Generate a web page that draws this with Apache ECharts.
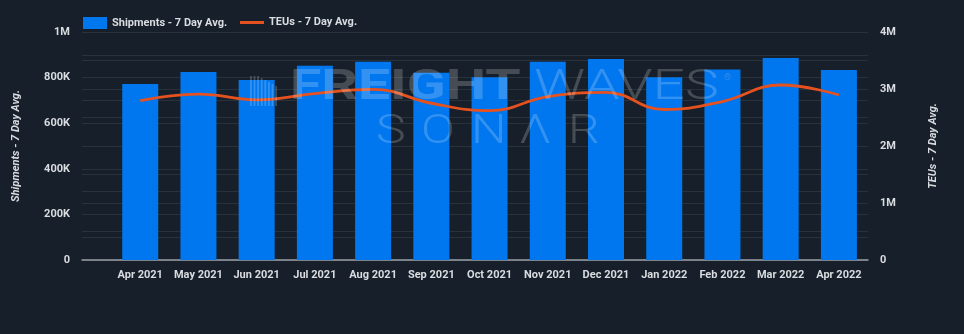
<!DOCTYPE html>
<html>
<head>
<meta charset="utf-8">
<script src="https://cdn.jsdelivr.net/npm/echarts@6/dist/echarts.min.js"></script>
<style>
  html, body { margin: 0; padding: 0; background: #17202a; }
  #chart { width: 964px; height: 334px; }
</style>
</head>
<body>
<div id="chart"></div>
<script>
// Monthly categories along the bottom axis
const months = ['Apr 2021', 'May 2021', 'Jun 2021', 'Jul 2021', 'Aug 2021', 'Sep 2021',
  'Oct 2021', 'Nov 2021', 'Dec 2021', 'Jan 2022', 'Feb 2022', 'Mar 2022', 'Apr 2022'];

// Shipments - 7 day average (left axis)
const shipments = [772000, 825000, 789000, 852000, 870000, 821000,
  801000, 870000, 882000, 801000, 836000, 886000, 833000];

// TEUs - 7 day average (right axis)
const teus = [2795000, 2910000, 2810000, 2920000, 2995000, 2750000,
  2620000, 2865000, 2940000, 2640000, 2780000, 3070000, 2895000];

const shipmentTicks = { 0: '0', 200000: '200K', 400000: '400K', 600000: '600K', 800000: '800K', 1000000: '1M' };
const teuTicks = { 0: '0', 1000000: '1M', 2000000: '2M', 3000000: '3M', 4000000: '4M' };

const FONT = 'Roboto, sans-serif';
const TXT = '#d9dce0';
const GRID = '#29313b';
const BAR = '#0077ee';
const LINE = '#e5521f';

const chart = echarts.init(document.getElementById('chart'), null, { renderer: 'canvas' });

// Faint brand mark drawn across the plot
const wm = 'rgba(255,255,255,0.2)';
const wmLogoBars = [];
for (let k = 0; k < 8; k++) {
  const h = k < 3 ? 30 : 30 - (k - 2) * 2;
  wmLogoBars.push({
    type: 'rect', z: 100, silent: true,
    shape: { x: 250 + k * 3.6, y: 106 - h, width: 1.8, height: h },
    style: { fill: wm }
  });
}
const sonarLetters = ['S', 'O', 'N', 'Λ', 'R'];
const sonarX = [376, 421, 471, 519, 568];

const legendText = { color: TXT, fontSize: 11, fontWeight: 'bold', fontFamily: FONT };

chart.setOption({
  backgroundColor: '#17202a',
  animation: false,
  textStyle: { fontFamily: FONT },
  legend: [
    {
      top: 12, left: 78, itemWidth: 24, itemHeight: 12,
      textStyle: legendText,
      data: [{ name: 'Shipments - 7 Day Avg.', icon: 'rect' }]
    },
    {
      top: 12, left: 235, itemWidth: 24, itemHeight: 3,
      textStyle: legendText,
      data: [{ name: 'TEUs - 7 Day Avg.', icon: 'rect', itemStyle: { color: LINE } }]
    }
  ],
  grid: { left: 82, right: 96, top: 32, bottom: 74 },
  xAxis: {
    type: 'value',
    min: -1,
    max: 12.5,
    interval: 1,
    axisLine: { show: true, lineStyle: { color: '#9aa0a6', width: 1.5 } },
    axisTick: { show: false },
    splitLine: { show: false },
    axisLabel: {
      color: TXT, fontSize: 11, fontWeight: 'bold', margin: 10,
      showMaxLabel: false,
      formatter: v => (Number.isInteger(v) && v >= 0 && v < months.length) ? months[v] : ''
    }
  },
  yAxis: [
    {
      type: 'value',
      min: 0, max: 1000000, interval: 200000,
      name: 'Shipments - 7 Day Avg.',
      nameLocation: 'middle', nameRotate: 90, nameGap: 60,
      nameTextStyle: { color: TXT, fontSize: 11, fontWeight: 'bold', fontStyle: 'italic', fontFamily: FONT },
      axisLine: { show: false }, axisTick: { show: false },
      axisLabel: { color: TXT, fontSize: 11, fontWeight: 'bold', margin: 12, formatter: v => shipmentTicks[v] ?? '' },
      splitLine: { lineStyle: { color: GRID, width: 1 } },
      minorTick: { show: false, splitNumber: 2 },
      minorSplitLine: { show: true, lineStyle: { color: GRID, width: 1 } }
    },
    {
      type: 'value',
      min: 0, max: 4000000, interval: 1000000,
      name: 'TEUs - 7 Day Avg.',
      nameLocation: 'middle', nameRotate: 90, nameGap: 60,
      nameTextStyle: { color: TXT, fontSize: 11, fontWeight: 'bold', fontStyle: 'italic', fontFamily: FONT },
      axisLine: { show: false }, axisTick: { show: false },
      axisLabel: { color: TXT, fontSize: 11, fontWeight: 'bold', margin: 12, formatter: v => teuTicks[v] ?? '' },
      splitLine: { lineStyle: { color: GRID, width: 1 } },
      minorTick: { show: false, splitNumber: 2 },
      minorSplitLine: { show: true, lineStyle: { color: GRID, width: 1 } }
    }
  ],
  series: [
    {
      name: 'Shipments - 7 Day Avg.',
      type: 'bar',
      yAxisIndex: 0,
      barWidth: 36,
      itemStyle: { color: BAR },
      data: shipments.map((v, i) => [i, v])
    },
    {
      name: 'TEUs - 7 Day Avg.',
      type: 'line',
      yAxisIndex: 1,
      smooth: 0.45,
      symbol: 'none',
      lineStyle: { color: LINE, width: 2.8 },
      itemStyle: { color: LINE },
      data: teus.map((v, i) => [i, v])
    }
  ],
  graphic: {
    elements: [
      ...wmLogoBars,
      {
        type: 'text', z: 100, silent: true, x: 290, y: 67, scaleX: 1.36,
        style: { text: 'FREIGHT', fill: wm, font: 'bold 42px Roboto, sans-serif' }
      },
      {
        type: 'text', z: 100, silent: true, x: 534, y: 67, scaleX: 1.36,
        style: { text: 'WAVES', fill: wm, font: '300 42px Roboto, sans-serif' }
      },
      {
        type: 'text', z: 100, silent: true, x: 724, y: 73,
        style: { text: '®', fill: wm, font: '300 9px Roboto, sans-serif' }
      },
      ...sonarLetters.map((ch, k) => ({
        type: 'text', z: 100, silent: true, x: sonarX[k], y: 113, scaleX: 1.25,
        style: { text: ch, fill: wm, font: '300 40px Roboto, sans-serif' }
      }))
    ]
  }
});
</script>
</body>
</html>
